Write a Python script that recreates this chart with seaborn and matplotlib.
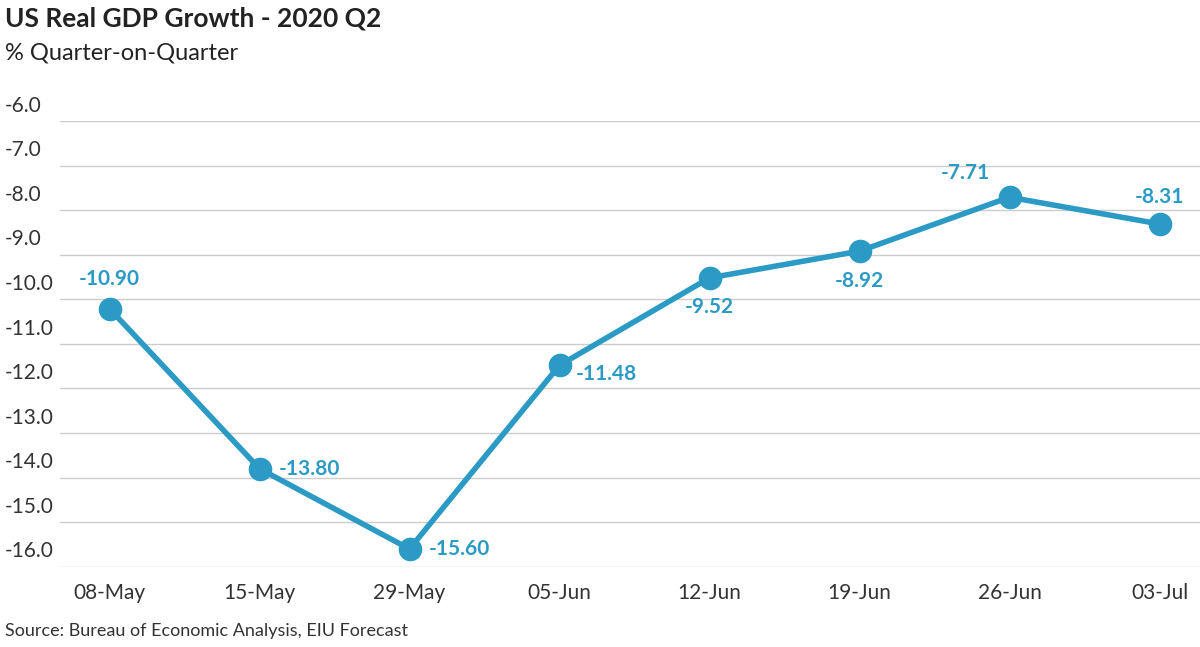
import matplotlib
matplotlib.use("Agg")
import matplotlib.pyplot as plt
import matplotlib.transforms as mtrans
import seaborn as sns
import pandas as pd

dates = ["08-May", "15-May", "29-May", "05-Jun", "12-Jun", "19-Jun", "26-Jun", "03-Jul"]
values = [-10.21, -13.80, -15.60, -11.48, -9.52, -8.92, -7.71, -8.31]
labels = ["-10.90", "-13.80", "-15.60", "-11.48", "-9.52", "-8.92", "-7.71", "-8.31"]
yticks = [-6.0, -7.0, -8.0, -9.0, -10.0, -11.0, -12.0, -13.0, -14.0, -15.0, -16.0]

sns.set_style("white")
plt.rcParams["font.family"] = ["Lato", "DejaVu Sans"]
blue = "#2b9ac4"

df = pd.DataFrame({"date": dates, "value": values, "x": range(len(dates))})

fig = plt.figure(figsize=(12, 6.47), dpi=100)
ax = fig.add_axes([0.05, 0.124, 0.95, 0.689])
sns.lineplot(data=df, x="x", y="value", color=blue, lw=4, marker="o",
             markersize=17, markeredgewidth=0, ax=ax)
ax.set_xlim(-0.33, 7.27)
ax.set_ylim(-16, -6)
for t in yticks:
    ax.axhline(t, color="#cccccc", lw=1, zorder=0)
ax.set_yticks([])
ax.set_xticks(range(len(dates)))
ax.set_xticklabels(dates, fontsize=15, color="#333333")
ax.tick_params(axis="x", length=0, pad=12)
ax.set_xlabel("")
ax.set_ylabel("")
for s in ax.spines.values():
    s.set_visible(False)

tr = mtrans.blended_transform_factory(fig.transFigure, ax.transData)
for t in yticks:
    ax.text(0.004, t + 0.12, f"{t:.1f}", transform=tr, fontsize=15,
            color="#333333", va="bottom", ha="left")

# label offsets (points)
offs = [(0, 14, "center", "bottom"), (14, 0, "left", "center"), (14, 0, "left", "center"),
        (12, -6, "left", "center"), (0, -14, "center", "top"), (0, -14, "center", "top"),
        (-14, 10, "right", "bottom"), (0, 12, "center", "bottom")]
for i, (v, lab) in enumerate(zip(values, labels)):
    dx, dy, ha, va = offs[i]
    ax.annotate(lab, (i, v), xytext=(dx, dy), textcoords="offset points",
                ha=ha, va=va, fontsize=15, fontweight="bold", color=blue)

fig.text(0.004, 0.972, "US Real GDP Growth - 2020 Q2", fontsize=19, fontweight="bold",
         color="#222222", va="center")
fig.text(0.004, 0.918, "% Quarter-on-Quarter", fontsize=17, color="#222222", va="center")
fig.text(0.004, 0.024, "Source: Bureau of Economic Analysis, EIU Forecast", fontsize=13,
         color="#333333", va="center")

fig.savefig("out.png", dpi=100)
